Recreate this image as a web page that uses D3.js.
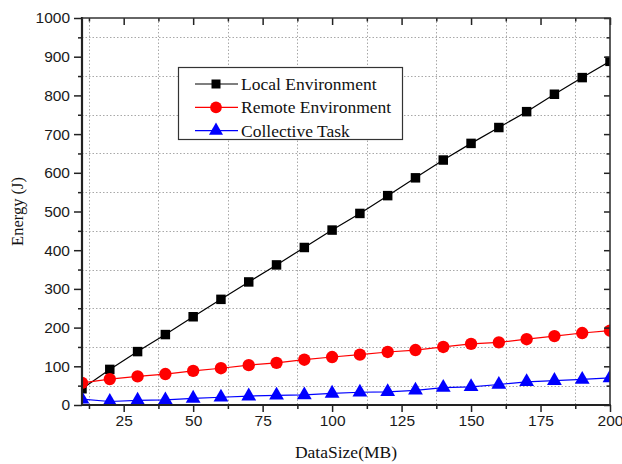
<!DOCTYPE html>
<html>
<head>
<meta charset="utf-8">
<script src="https://cdn.jsdelivr.net/npm/d3@7"></script>
<style>
  html, body { margin: 0; padding: 0; background: #fff; }
  svg { display: block; }
</style>
</head>
<body>
<svg id="chart" width="622" height="464"></svg>
<script>
const dataSize = [10, 20, 30, 40, 50, 60, 70, 80, 90, 100, 110, 120, 130, 140, 150, 160, 170, 180, 190, 200];
const localEnv = [42, 92, 138, 182, 228, 273, 318, 362, 407, 452, 495, 541, 587, 633, 676, 717, 758, 803, 846, 888];
const remoteEnv = [57, 67, 74, 80, 88, 95, 103, 109, 117, 124, 130, 137, 142, 150, 158, 162, 170, 178, 186, 192];
const collectiveTask = [15, 9, 12, 13, 17, 20, 23, 25, 26, 30, 33, 34, 38, 45, 47, 53, 60, 63, 66, 70];
const seriesNames = ["Local Environment", "Remote Environment", "Collective Task"];
const xTicks = [25, 50, 75, 100, 125, 150, 175, 200];
const yTicks = [0, 100, 200, 300, 400, 500, 600, 700, 800, 900, 1000];

const svg = d3.select("#chart");
const L = 82, R = 610, T = 18, B = 405;
const x = d3.scaleLinear().domain([10, 200]).range([L, R]);
const y = d3.scaleLinear().domain([0, 1000]).range([B, T]);

const xMinor = d3.range(12.5, 200, 25);
const yMinor = d3.range(50, 1000, 100);

// grid (dotted, at minor positions)
const grid = svg.append("g");
grid.selectAll("line.vx").data(xMinor).enter().append("line")
  .attr("x1", d => Math.round(x(d)) + 0.5).attr("x2", d => Math.round(x(d)) + 0.5).attr("y1", T).attr("y2", B)
  .attr("stroke", "#a8a8a8").attr("stroke-width", 1).attr("stroke-dasharray", "1.5,2");
grid.selectAll("line.hy").data(yMinor).enter().append("line")
  .attr("x1", L).attr("x2", R).attr("y1", d => Math.round(y(d)) + 0.5).attr("y2", d => Math.round(y(d)) + 0.5)
  .attr("stroke", "#a8a8a8").attr("stroke-width", 1).attr("stroke-dasharray", "1.5,2");

// clip
svg.append("defs").append("clipPath").attr("id", "clip")
  .append("rect").attr("x", L).attr("y", T).attr("width", R - L).attr("height", B - T);

const series = [
  { name: seriesNames[0], values: localEnv, color: "#000000", shape: d3.symbolSquare, size: 90 },
  { name: seriesNames[1], values: remoteEnv, color: "#ff0000", shape: d3.symbolCircle, size: 120 },
  { name: seriesNames[2], values: collectiveTask, color: "#0000ff", shape: d3.symbolTriangle, size: 95 }
];

const plot = svg.append("g").attr("clip-path", "url(#clip)");
const line = d3.line().x((d, i) => x(dataSize[i])).y(d => y(d));
series.forEach(s => {
  plot.append("path").datum(s.values).attr("d", line)
    .attr("fill", "none").attr("stroke", s.color).attr("stroke-width", 1.2);
  plot.selectAll(null).data(s.values).enter().append("path")
    .attr("d", d3.symbol().type(s.shape).size(s.size))
    .attr("transform", (d, i) => `translate(${x(dataSize[i])},${y(d)})`)
    .attr("fill", s.color);
});

// axes
const tickFont = "Liberation Sans, Arial, sans-serif";
svg.append("g").attr("transform", `translate(0,${B})`)
  .call(d3.axisBottom(x).tickValues(xTicks).tickSize(7).tickPadding(3).tickFormat(d3.format("d")));
svg.append("g").attr("transform", `translate(0,${B})`)
  .call(d3.axisBottom(x).tickValues(xMinor).tickSize(4).tickFormat(""));
svg.append("g").attr("transform", `translate(${L},0)`)
  .call(d3.axisLeft(y).tickValues(yTicks).tickSize(8).tickPadding(4).tickFormat(d3.format("d")));
svg.append("g").attr("transform", `translate(${L},0)`)
  .call(d3.axisLeft(y).tickValues(yMinor).tickSize(4).tickFormat(""));
svg.append("g").attr("transform", `translate(0,${T})`)
  .call(d3.axisBottom(x).tickValues(xTicks).tickSize(7).tickFormat(""));
svg.append("g").attr("transform", `translate(0,${T})`)
  .call(d3.axisBottom(x).tickValues(xMinor).tickSize(3.5).tickFormat(""));
svg.append("g").attr("transform", `translate(${R},0)`)
  .call(d3.axisLeft(y).tickValues(yTicks).tickSize(6).tickFormat("").tickSizeOuter(0));
svg.append("g").attr("transform", `translate(${R},0)`)
  .call(d3.axisLeft(y).tickValues(yMinor).tickSize(3.5).tickFormat("").tickSizeOuter(0));

svg.selectAll(".domain").remove();
svg.selectAll(".tick line").attr("stroke", "#222").attr("stroke-width", 1.5);
svg.selectAll(".tick text").attr("font-family", tickFont).attr("font-size", 15.5).attr("fill", "#1a1a1a");

// frame
svg.append("line").attr("x1", L).attr("x2", L).attr("y1", T - 1).attr("y2", B + 1).attr("stroke", "#222").attr("stroke-width", 2.2);
svg.append("line").attr("x1", L - 1).attr("x2", R + 1).attr("y1", B).attr("y2", B).attr("stroke", "#222").attr("stroke-width", 2.2);
svg.append("line").attr("x1", L).attr("x2", R + 1).attr("y1", T).attr("y2", T).attr("stroke", "#333").attr("stroke-width", 1.6);
svg.append("line").attr("x1", R).attr("x2", R).attr("y1", T).attr("y2", B).attr("stroke", "#333").attr("stroke-width", 1.6);

// legend
const serif = "Liberation Serif, Times New Roman, serif";
const lg = svg.append("g");
lg.append("rect").attr("x", 178.5).attr("y", 67.5).attr("width", 224).attr("height", 72)
  .attr("fill", "#fff").attr("stroke", "#333").attr("stroke-width", 1.2);
series.forEach((s, i) => {
  const cy = 84 + i * 23.3;
  lg.append("line").attr("x1", 195).attr("x2", 238).attr("y1", cy).attr("y2", cy)
    .attr("stroke", s.color).attr("stroke-width", 1.2);
  lg.append("path").attr("d", d3.symbol().type(s.shape).size(s.size * 0.9))
    .attr("transform", `translate(216,${cy})`).attr("fill", s.color);
  lg.append("text").attr("x", 241).attr("y", cy + 6).text(s.name)
    .attr("font-family", serif).attr("font-size", 17.5).attr("fill", "#111");
});

// axis titles
svg.append("text").attr("x", (L + R) / 2).attr("y", 458).attr("text-anchor", "middle")
  .attr("font-family", serif).attr("font-size", 17.5).attr("fill", "#111").text("DataSize(MB)");
svg.append("text").attr("transform", `translate(23,${(T + B) / 2}) rotate(-90)`).attr("text-anchor", "middle")
  .attr("font-family", serif).attr("font-size", 16.5).attr("fill", "#111").text("Energy (J)");
</script>
</body>
</html>
